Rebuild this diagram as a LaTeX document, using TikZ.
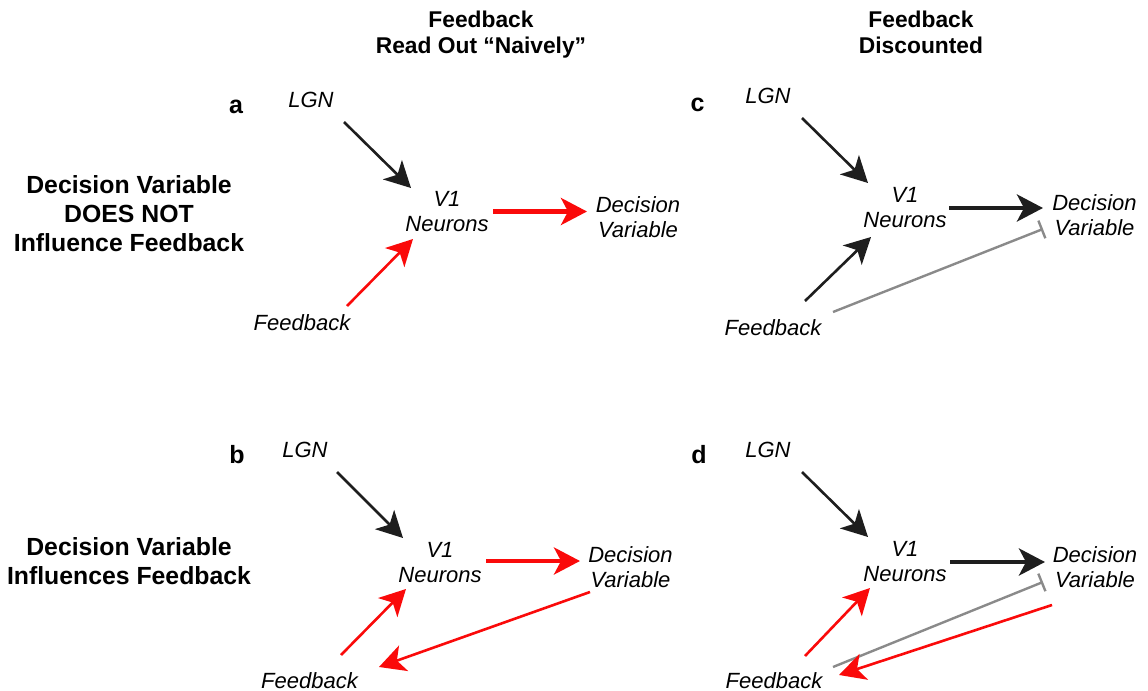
\documentclass[tikz,border=0pt]{standalone}
\usepackage{fontspec}
\setmainfont{Liberation Sans}
\usetikzlibrary{arrows.meta,calc}
\definecolor{myred}{RGB}{250,10,10}
\definecolor{myblack}{RGB}{30,30,30}
\definecolor{mygray}{RGB}{138,138,138}
\tikzset{
  lbl/.style={inner sep=0pt, font=\fontsize{11}{12.5}\selectfont\itshape, align=center},
  rowlbl/.style={inner sep=0pt, font=\fontsize{12.4}{14.5}\selectfont\bfseries, align=center},
  headlbl/.style={inner sep=0pt, font=\fontsize{11.4}{13}\selectfont\bfseries, align=center},
  letter/.style={inner sep=0pt, anchor=base, font=\fontsize{12.5}{14}\selectfont\bfseries},
  blackarr/.style={draw=myblack, fill=myblack, line width=1.3pt, -{Stealth[length=13pt,width=13.5pt,inset=3.5pt]}},
  redarr/.style={draw=myred, fill=myred, line width=1.3pt, -{Stealth[length=13pt,width=13.5pt,inset=3.5pt]}},
  blackthick/.style={blackarr, line width=2.1pt},
  redthick/.style={redarr, line width=2.1pt},
  inhib/.style={draw=mygray, line width=1.2pt, -{Bar[width=9.5pt]}},
}
\begin{document}
\begin{tikzpicture}[x=0.5pt,y=-0.5pt]
\useasboundingbox (0,0) rectangle (1148,691);
% headers
\node[headlbl] (h1) at (481,35) {Feedback\\Read Out “Naively”};
\node[headlbl] (h2) at (921,32.5) {Feedback\\Discounted};
% row labels
\node[rowlbl] (r1) at (129,214) {Decision Variable\\DOES NOT\\Influence Feedback};
\node[rowlbl] (r2) at (129,561) {Decision Variable\\Influences Feedback};
% letters
\node[letter] (la) at (236,113) {a};
\node[letter] (lb) at (237,463) {b};
\node[letter] (lc) at (697.5,111) {c};
\node[letter] (ld) at (699,463) {d};

% ---------- panel a ----------
\node[lbl, anchor=base] (alg) at (311,107) {LGN};
\node[lbl] (av1) at (447,212) {V1\\Neurons};
\node[lbl] (adv) at (638,217.5) {Decision\\Variable};
\node[lbl, anchor=base] (afb) at (302,330) {Feedback};
\draw[blackarr] ($(alg.base)+(33,15)$) -- ($(av1.center)+(-36,-24)$);
\draw[redarr] ($(afb.base)+(45,-24)$) -- ($(av1.center)+(-34,27)$);
\draw[redthick] ($(av1.center)+(46,-0.5)$) -- ($(adv.center)+(-51,-6)$);

% ---------- panel c ----------
\node[lbl, anchor=base] (clg) at (768,103) {LGN};
\node[lbl] (cv1) at (905,208) {V1\\Neurons};
\node[lbl] (cdv) at (1094.5,215.5) {Decision\\Variable};
\node[lbl, anchor=base] (cfb) at (773,335) {Feedback};
\draw[blackarr] ($(clg.base)+(34,15)$) -- ($(cv1.center)+(-37,-25)$);
\draw[blackarr] ($(cfb.base)+(32,-34)$) -- ($(cv1.center)+(-34,29)$);
\draw[blackthick] ($(cv1.center)+(44,0)$) -- ($(cdv.center)+(-51.5,-7.5)$);
\draw[inhib] ($(cfb.base)+(60,-23)$) -- ($(cdv.center)+(-51.5,13.5)$);

% ---------- panel b ----------
\node[lbl, anchor=base] (blg) at (305,457) {LGN};
\node[lbl] (bv1) at (440,562.5) {V1\\Neurons};
\node[lbl] (bdv) at (630.5,567) {Decision\\Variable};
\node[lbl, anchor=base] (bfb) at (309.5,688) {Feedback};
\draw[blackarr] ($(blg.base)+(32,15)$) -- ($(bv1.center)+(-37,-24.5)$);
\draw[redarr] ($(bfb.base)+(31.5,-33)$) -- ($(bv1.center)+(-34,26.5)$);
\draw[redthick] ($(bv1.center)+(46,-1.5)$) -- ($(bdv.center)+(-50.5,-6)$);
\draw[redarr] ($(bdv.center)+(-40.5,25)$) -- ($(bfb.base)+(69.5,-21)$);

% ---------- panel d ----------
\node[lbl, anchor=base] (dlg) at (768,457) {LGN};
\node[lbl] (dv1) at (905,561.5) {V1\\Neurons};
\node[lbl] (ddv) at (1095,567) {Decision\\Variable};
\node[lbl, anchor=base] (dfb) at (774,688) {Feedback};
\draw[blackarr] ($(dlg.base)+(34,15)$) -- ($(dv1.center)+(-37,-24.5)$);
\draw[redarr] ($(dfb.base)+(31,-32)$) -- ($(dv1.center)+(-35,26.5)$);
\draw[blackthick] ($(dv1.center)+(45,0.5)$) -- ($(ddv.center)+(-50,-5)$);
\draw[inhib] ($(dfb.base)+(59,-21)$) -- ($(ddv.center)+(-52,15)$);
\draw[redarr] ($(ddv.center)+(-43,38)$) -- ($(dfb.base)+(65,-13)$);
\end{tikzpicture}
\end{document}
